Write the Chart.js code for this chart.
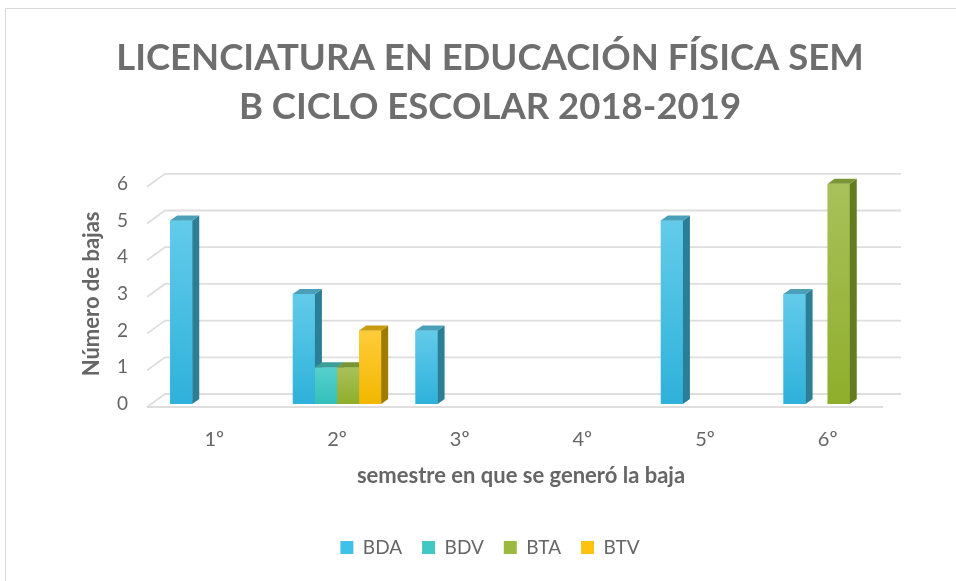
<!DOCTYPE html>
<html lang="es">
  <head>
    <meta charset="UTF-8" />
    <title>bajas sem B</title>
    <style>
      body { margin: 0; background: #fff; }
      #frame { position: absolute; left: 5px; top: 8px; width: 960px; height: 580px; border: 1px solid #d9d9d9; }
      #wrap { position: absolute; left: 0; top: 0; width: 956px; height: 581px; }
    </style>
  </head>
  <body>
    <div id="frame"></div>
    <div id="wrap"><canvas id="c"></canvas></div>
    <script src="https://cdn.jsdelivr.net/npm/chart.js"></script>
    <script>
      // datos
      const semestres = ['1º', '2º', '3º', '4º', '5º', '6º'];
      const bda = [5, 3, 2, 0, 5, 3];
      const bdv = [0, 1, 0, 0, 0, 0];
      const bta = [0, 1, 0, 0, 0, 6];
      const btv = [0, 2, 0, 0, 0, 0];
      const yTicks = [0, 1, 2, 3, 4, 5, 6];

      const gris = '#666666';
      // front top, front bottom, side, top face
      const tonos = {
        BDA: ['#63cbea', '#2eb1db', '#2a7f97', '#4b9fb8'],
        BDV: ['#57d0cc', '#33c0bb', '#2b8985', '#3c9d99'],
        BTA: ['#a8c15a', '#8fae2b', '#627c1f', '#7b9535'],
        BTV: ['#ffcc3a', '#f2b700', '#a07b00', '#c99b12']
      };
      const cuadro = { BDA: '#40c1e8', BDV: '#42c7c3', BTA: '#9bb93e', BTV: '#ffc20e' };

      // bars with a little depth, drawn in dataset order
      const barras3d = {
        id: 'barras3d',
        beforeDatasetsDraw(chart) {
          const ctx = chart.ctx;
          const a = chart.chartArea;
          const y = chart.scales.y;
          ctx.save();
          ctx.strokeStyle = '#dedede';
          ctx.lineWidth = 1.8;
          for (const v of yTicks) {
            const py = y.getPixelForValue(v);
            ctx.beginPath();
            ctx.moveTo(a.left - 6, py + 3);
            ctx.lineTo(a.left + 12, py - 10);
            ctx.lineTo(a.right + 12, py - 10);
            ctx.stroke();
          }
          // front edge of the floor
          const p0 = y.getPixelForValue(0);
          ctx.beginPath();
          ctx.moveTo(a.left - 6, p0 + 3);
          ctx.lineTo(a.right - 6, p0 + 3);
          ctx.stroke();
          ctx.restore();
        },
        afterDatasetsDraw(chart) {
          const ctx = chart.ctx;
          const dx = 7, dy = -5;
          ctx.save();
          chart.data.datasets.forEach((ds, i) => {
            const t = tonos[ds.label];
            chart.getDatasetMeta(i).data.forEach((bar, j) => {
              if (!ds.data[j]) return;
              const x0 = bar.x - bar.width / 2, x1 = bar.x + bar.width / 2;
              const yt = bar.y, yb = bar.base;
              const g = ctx.createLinearGradient(0, yt, 0, yb);
              g.addColorStop(0, t[0]);
              g.addColorStop(1, t[1]);
              ctx.fillStyle = g;
              ctx.fillRect(x0, yt, x1 - x0, yb - yt);
              ctx.fillStyle = t[2];
              ctx.beginPath();
              ctx.moveTo(x1, yt);
              ctx.lineTo(x1 + dx, yt + dy);
              ctx.lineTo(x1 + dx, yb + dy);
              ctx.lineTo(x1, yb);
              ctx.closePath();
              ctx.fill();
              ctx.fillStyle = t[3];
              ctx.beginPath();
              ctx.moveTo(x0, yt);
              ctx.lineTo(x1, yt);
              ctx.lineTo(x1 + dx, yt + dy);
              ctx.lineTo(x0 + dx, yt + dy);
              ctx.closePath();
              ctx.fill();
            });
          });
          ctx.restore();
        }
      };

      function serie(nombre, datos) {
        return {
          label: nombre,
          data: datos,
          backgroundColor: cuadro[nombre],
          borderWidth: 0,
          categoryPercentage: 0.72,
          barPercentage: 1
        };
      }

      new Chart(document.getElementById('c'), {
        type: 'bar',
        data: {
          labels: semestres,
          datasets: [serie('BDA', bda), serie('BDV', bdv), serie('BTA', bta), serie('BTV', btv)]
        },
        options: {
          responsive: true,
          maintainAspectRatio: false,
          animation: false,
          layout: { padding: { left: 24, right: 0, top: 0, bottom: 14 } },
          plugins: {
            title: {
              display: true,
              text: ['LICENCIATURA EN EDUCACIÓN FÍSICA SEM', 'B CICLO ESCOLAR 2018-2019'],
              color: '#6e6e6e',
              font: { family: 'Lato', size: 36.5, weight: 'bold', lineHeight: 1.34 },
              padding: { top: 33.5, bottom: 52.5 }
            },
            legend: {
              position: 'bottom',
              labels: {
                color: gris,
                font: { family: 'Lato', size: 19 },
                boxWidth: 13,
                boxHeight: 13,
                padding: 20
              }
            },
            tooltip: { enabled: false }
          },
          scales: {
            x: {
              grid: { display: false, drawTicks: false },
              border: { display: false },
              ticks: { color: gris, font: { family: 'Lato', size: 20 }, padding: 24 },
              title: {
                display: true,
                text: 'semestre en que se generó la baja',
                color: gris,
                font: { family: 'Lato', size: 22, weight: 'bold' },
                padding: { top: 0, bottom: 29 }
              },
              afterFit(s) { s.height = 114; }
            },
            y: {
              min: 0,
              max: 6,
              grid: { display: false, drawTicks: false },
              border: { display: false },
              ticks: { stepSize: 1, color: gris, font: { family: 'Lato', size: 19 }, padding: 25 },
              title: {
                display: true,
                text: 'Número de bajas',
                color: gris,
                font: { family: 'Lato', size: 22, weight: 'bold' },
                padding: { top: 55, bottom: 0 }
              },
              afterFit(s) { s.width = 129; }
            },
            // empty axis on the right, only to reserve space
            hueco: {
              position: 'right',
              min: 0,
              max: 1,
              grid: { display: false, drawTicks: false },
              border: { display: false },
              ticks: { display: false },
              afterFit(s) { s.width = 67; }
            }
          }
        },
        plugins: [barras3d]
      });
    </script>
  </body>
</html>
